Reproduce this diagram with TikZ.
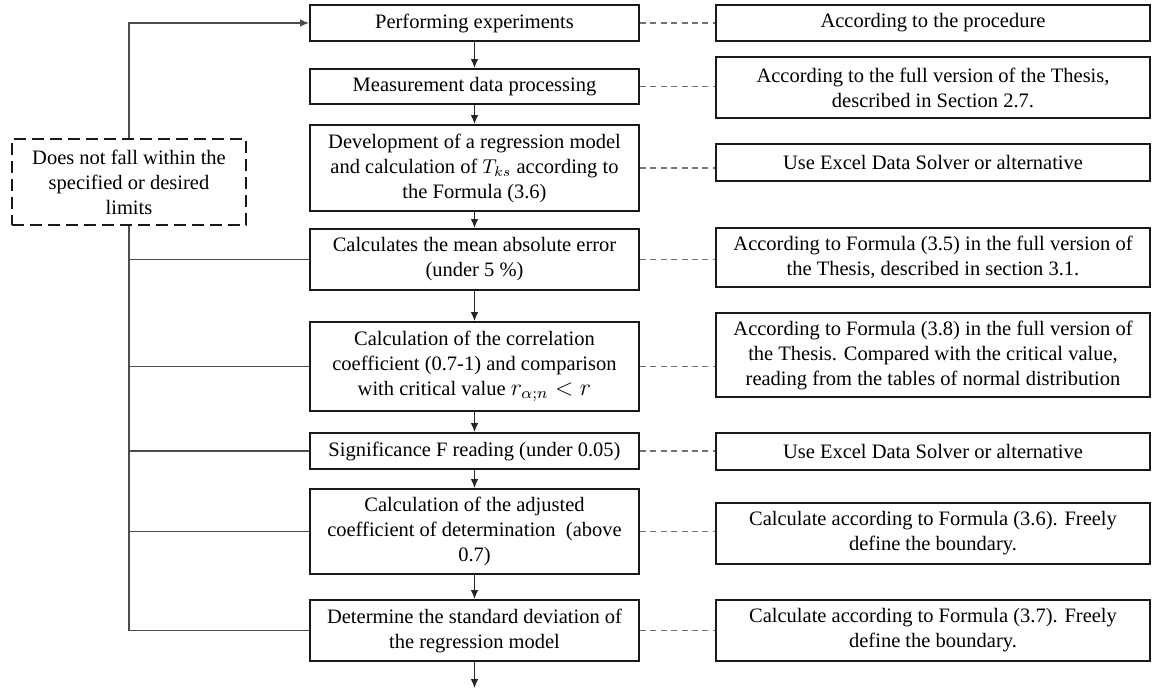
\documentclass[tikz,border=0pt]{standalone}
\usepackage{fontspec}
\setmainfont{Liberation Serif}
\usetikzlibrary{arrows.meta}
\newcommand\myfs{\fontsize{10.25}{12.5}\selectfont}
\begin{document}
\begin{tikzpicture}[x=0.5pt,y=-0.5pt,
  lbox/.style={draw=black!90,line width=1pt,minimum width=164.5pt,inner sep=0pt,align=center,font=\myfs},
  rbox/.style={draw=black!90,line width=1pt,minimum width=217pt,inner sep=0pt,align=center,font=\myfs},
  dbox/.style={draw=black!90,line width=1pt,dash pattern=on 6pt off 3pt,minimum width=117pt,minimum height=43pt,inner sep=0pt,align=center,font=\myfs},
  arr/.style={draw=black!85,line width=0.6pt,-{Latex[length=4.5pt,width=3.8pt]}},
  lline/.style={draw=black!70,line width=0.6pt},
  dline/.style={draw=black!55,line width=0.6pt,dash pattern=on 3pt off 2.2pt}]
\fill[white] (0,0) rectangle (1153,691);
\useasboundingbox (0,0) rectangle (1153,691);
% left column
\node[lbox,minimum height=18pt] (B1) at (474.5,23) {Performing experiments};
\node[lbox,minimum height=17.5pt] (B2) at (474.5,86.5) {Measurement data processing};
\node[lbox,minimum height=43pt] (B3) at (474.5,168) {Development of a regression model\\ and calculation of $T_{ks}$ according to\\ the Formula (3.6)};
\node[lbox,minimum height=30.5pt] (B4) at (474.5,259.5) {Calculates the mean absolute error\\ (under 5 \%)};
\node[lbox,minimum height=44.5pt] (B5) at (474.5,366.5) {Calculation of the correlation\\ coefficient (0.7-1) and comparison\\ with critical value {\large$r_{\alpha;n} < r$}};
\node[lbox,minimum height=18pt] (B6) at (474.5,451) {Significance F reading (under 0.05)};
\node[lbox,minimum height=42.5pt] (B7) at (474.5,531.5) {Calculation of the adjusted\\ coefficient of determination\ \ (above\\ 0.7)};
\node[lbox,minimum height=30.5pt] (B8) at (474.5,630.5) {Determine the standard deviation of\\ the regression model};
\coordinate (E) at (474.5,688);
% right column
\node[rbox,minimum height=18pt] (R1) at (933,23) {According to the procedure};
\node[rbox,minimum height=30.5pt] (R2) at (933,87.5) {According to the full version of the Thesis,\\ described in Section 2.7.};
\node[rbox,minimum height=18.5pt] (R3) at (933,162.5) {Use Excel Data Solver or alternative};
\node[rbox,minimum height=29.5pt] (R4) at (933,257.5) {According to Formula (3.5) in the full version of\\ the Thesis, described in section 3.1.};
\node[rbox,minimum height=42pt] (R5) at (933,355) {According to Formula (3.8) in the full version of\\ the Thesis. Compared with the critical value,\\ reading from the tables of normal distribution};
\node[rbox,minimum height=18.5pt] (R6) at (933,451.5) {Use Excel Data Solver or alternative};
\node[rbox,minimum height=30.5pt] (R7) at (933,533.5) {Calculate according to Formula (3.6). Freely\\ define the boundary.};
\node[rbox,minimum height=30.5pt] (R8) at (933,630.5) {Calculate according to Formula (3.7). Freely\\ define the boundary.};
% dashed feedback box
\node[dbox] (D) at (129,182) {Does not fall within the\\ specified or desired\\ limits};
% main arrows
\draw[arr] (B1) -- (B2);
\draw[arr] (B2) -- (B3);
\draw[arr] (B3) -- (B4);
\draw[arr] (B4) -- (B5);
\draw[arr] (B5) -- (B6);
\draw[arr] (B6) -- (B7);
\draw[arr] (B7) -- (B8);
\draw[arr] (B8) -- (E);
% dashed links
\foreach \i in {1,...,8}{
  \draw[dline] (B\i.east) -- (B\i.east -| R\i.west);
}
% feedback loop
\draw[lline,-{Latex[length=4.5pt,width=3.8pt]}] (D.north) |- (B1.west);
\draw[lline] (D.south) |- (B8.west);
\foreach \i in {4,5,6,7}{
  \draw[lline] (B\i.west) -- (B\i.west -| D.south);
}
\end{tikzpicture}
\end{document}
